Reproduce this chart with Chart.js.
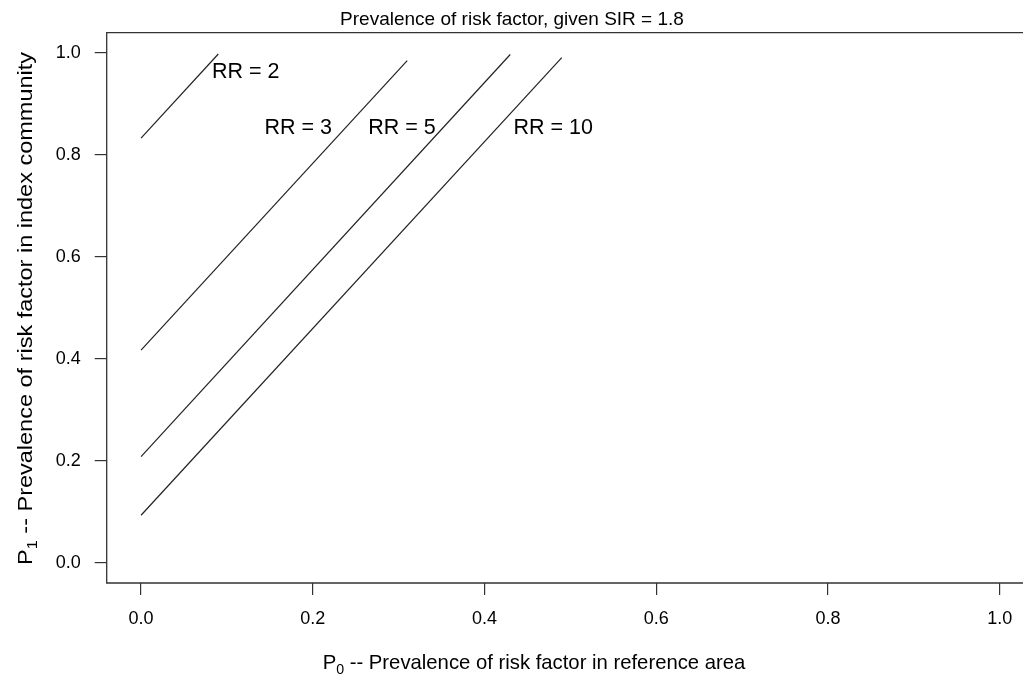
<!DOCTYPE html>
<html>
<head>
<meta charset="utf-8">
<script src="https://cdn.jsdelivr.net/npm/chart.js@4.4.1/dist/chart.umd.min.js"></script>
<style>
  html, body { margin: 0; padding: 0; overflow: hidden; background: #fff; }
  #wrap { width: 1060px; height: 677px; }
</style>
</head>
<body>
<div id="wrap"><canvas id="myChart" width="1060" height="677"></canvas></div>
<script>
// one line per relative risk, from P0 = 0 up to where P1 reaches ~1
const rrLabels = ["RR = 2", "RR = 3", "RR = 5", "RR = 10"];
const p0Start = [0, 0, 0, 0];
const p0End = [0.09, 0.31, 0.43, 0.49];
const p1Start = [0.833, 0.417, 0.208, 0.093];
const p1End = [0.998, 0.985, 0.997, 0.991];

// where the RR labels sit (data coords, centre of text)
const labelX = [0.122, 0.183, 0.304, 0.48];
const labelY = [0.963, 0.852, 0.852, 0.852];

const xTicks = [0, 0.2, 0.4, 0.6, 0.8, 1.0];
const yTicks = [0, 0.2, 0.4, 0.6, 0.8, 1.0];

const FONT = "'Liberation Sans', Arial, Helvetica, sans-serif";
const INK = "#222";

const datasets = rrLabels.map(function (lab, i) {
  return {
    label: lab,
    data: [
      { x: p0Start[i], y: p1Start[i] },
      { x: p0End[i], y: p1End[i] },
    ],
    borderColor: INK,
    borderWidth: 1.2,
    pointRadius: 0,
    fill: false,
    tension: 0,
  };
});

// box round the plot, title, axis titles and the RR labels
const textPlugin = {
  id: "textPlugin",
  afterDraw: function (chart) {
    const ctx = chart.ctx;
    const a = chart.chartArea;
    const xs = chart.scales.x;
    const ys = chart.scales.y;
    ctx.save();
    // right side of the box falls outside the picture, so only three sides
    ctx.strokeStyle = "#333";
    ctx.lineWidth = 1.3;
    ctx.beginPath();
    ctx.moveTo(a.right + 20, a.top);
    ctx.lineTo(a.left, a.top);
    ctx.lineTo(a.left, a.bottom);
    ctx.lineTo(a.right + 20, a.bottom);
    ctx.stroke();

    ctx.fillStyle = "#000";
    ctx.textAlign = "center";
    ctx.textBaseline = "alphabetic";
    ctx.font = "19px " + FONT;
    ctx.fillText("Prevalence of risk factor, given SIR = 1.8", 512, 25);

    // RR labels
    ctx.font = "21.5px " + FONT;
    ctx.textBaseline = "middle";
    for (let i = 0; i < rrLabels.length; i++) {
      ctx.fillText(rrLabels[i], xs.getPixelForValue(labelX[i]), ys.getPixelForValue(labelY[i]));
    }

    // x axis title with subscript
    drawSubTitle(ctx, "P", "0", " -- Prevalence of risk factor in reference area", 534, 669, 20.3, 0);

    // y axis title, rotated
    ctx.save();
    ctx.translate(32, 308.5);
    ctx.rotate(-Math.PI / 2);
    drawSubTitle(ctx, "P", "1", " -- Prevalence of risk factor in index community", 0, 0, 20.5, 513);
    ctx.restore();

    ctx.restore();
  },
};

// text with one subscript, centred on cx; span > 0 stretches it to that length
function drawSubTitle(ctx, main, sub, rest, cx, baseY, size, span) {
  ctx.textBaseline = "alphabetic";
  ctx.textAlign = "left";
  const big = size + "px " + FONT;
  const small = (size * 0.7).toFixed(1) + "px " + FONT;
  ctx.font = big;
  const w1 = ctx.measureText(main).width;
  const w3 = ctx.measureText(rest).width;
  ctx.font = small;
  const w2 = ctx.measureText(sub).width;
  const total = w1 + w2 + w3;
  ctx.save();
  ctx.translate(cx, baseY);
  if (span > 0) ctx.scale(span / total, 1);
  let x = -total / 2;
  ctx.font = big;
  ctx.fillText(main, x, 0);
  x += w1;
  ctx.font = small;
  ctx.fillText(sub, x, size * 0.25);
  x += w2;
  ctx.font = big;
  ctx.fillText(rest, x, 0);
  ctx.restore();
}

const config = {
  type: "line",
  data: { datasets: datasets },
  options: {
    responsive: false,
    animation: false,
    devicePixelRatio: 1,
    layout: { padding: { top: 32.6, right: 26, left: 0, bottom: 0 } },
    plugins: {
      legend: { display: false },
      tooltip: { enabled: false },
      title: { display: false },
    },
    scales: {
      x: {
        type: "linear",
        min: -0.04,
        max: 1.04,
        afterBuildTicks: function (s) {
          s.ticks = xTicks.map(function (v) { return { value: v }; });
        },
        afterFit: function (s) { s.height = 94; },
        ticks: {
          callback: function (v) { return v.toFixed(1); },
          font: { family: FONT, size: 18 },
          color: "#000",
          padding: 13,
          maxRotation: 0,
          autoSkip: false,
        },
        grid: { drawOnChartArea: false, drawTicks: true, tickLength: 12, color: "#333", lineWidth: 1.2 },
        border: { display: false },
      },
      y: {
        type: "linear",
        min: -0.04,
        max: 1.04,
        afterBuildTicks: function (s) {
          s.ticks = yTicks.map(function (v) { return { value: v }; });
        },
        afterFit: function (s) { s.width = 106.7; },
        ticks: {
          callback: function (v) { return v.toFixed(1); },
          font: { family: FONT, size: 18 },
          color: "#000",
          padding: 14,
          autoSkip: false,
        },
        grid: { drawOnChartArea: false, drawTicks: true, tickLength: 12, color: "#333", lineWidth: 1.2 },
        border: { display: false },
      },
    },
  },
  plugins: [textPlugin],
};

const myChart = new Chart(document.getElementById("myChart"), config);
</script>
</body>
</html>
